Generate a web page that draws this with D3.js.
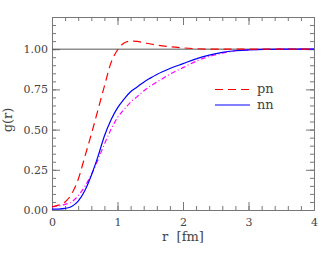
<!DOCTYPE html>
<html>
<head>
<meta charset="utf-8">
<script src="https://cdn.jsdelivr.net/npm/d3@7"></script>
<style>
  body { margin: 0; background: #fff; }
  svg text { font-family: "DejaVu Serif", serif; fill: #444; }
</style>
</head>
<body>
<div id="vis"></div>
<script>
const WIDTH = 330;
const HEIGHT = 254;

// values
const rPn = [0, 0.1, 0.2, 0.3, 0.4, 0.5, 0.6, 0.7, 0.8, 0.9, 1.0, 1.1, 1.2, 1.3, 1.4, 1.6, 1.8, 2.0, 2.2, 2.5, 3.0, 4.0];
const gPn = [0.02, 0.03, 0.05, 0.10, 0.19, 0.33, 0.47, 0.62, 0.77, 0.915, 0.995, 1.038, 1.05, 1.048, 1.04, 1.025, 1.015, 1.008, 1.003, 1.0, 1.0, 1.0];

const rNn = [0, 0.1, 0.2, 0.3, 0.4, 0.5, 0.6, 0.7, 0.8, 0.9, 1.0, 1.1, 1.2, 1.3, 1.4, 1.5, 1.6, 1.8, 2.0, 2.2, 2.4, 2.6, 2.8, 3.0, 3.3, 3.6, 4.0];
const gNn = [0.005, 0.006, 0.01, 0.022, 0.055, 0.12, 0.215, 0.33, 0.46, 0.56, 0.635, 0.69, 0.735, 0.765, 0.795, 0.82, 0.843, 0.88, 0.91, 0.94, 0.963, 0.98, 0.99, 0.996, 0.999, 1.0, 1.0];

const rThird = [0, 0.1, 0.2, 0.3, 0.4, 0.5, 0.6, 0.7, 0.8, 0.9, 1.0, 1.1, 1.2, 1.3, 1.4, 1.5, 1.6, 1.8, 2.0, 2.2, 2.4, 2.6, 2.8, 3.0, 3.3, 3.6, 4.0];
const gThird = [0.02, 0.025, 0.035, 0.05, 0.09, 0.145, 0.22, 0.31, 0.41, 0.5, 0.575, 0.625, 0.67, 0.705, 0.74, 0.77, 0.795, 0.845, 0.885, 0.925, 0.955, 0.975, 0.99, 0.996, 0.999, 1.0, 1.0];

const xMajor = [0, 1, 2, 3, 4];
const yMajor = [0, 0.25, 0.5, 0.75, 1.0];
const legendNames = ["pn", "nn"];

const margin = { left: 52, right: 16, top: 17, bottom: 44 };
const innerW = WIDTH - margin.left - margin.right;
const innerH = HEIGHT - margin.top - margin.bottom;

const x = d3.scaleLinear().domain([0, 4]).range([0, innerW]);
const y = d3.scaleLinear().domain([0, 1.2]).range([innerH, 0]);

const svg = d3.select('#vis').append('svg')
  .attr('width', WIDTH)
  .attr('height', HEIGHT);

const g = svg.append('g')
  .attr('transform', `translate(${margin.left},${margin.top})`);

// minor ticks
const xMinor = d3.range(0, 4.001, 0.2).map(v => +v.toFixed(2));
const yMinor = d3.range(0, 1.2001, 0.05).map(v => +v.toFixed(2));

function styleAxis(sel) {
  sel.selectAll('path').attr('stroke', '#777');
  sel.selectAll('line').attr('stroke', '#777');
  sel.selectAll('text').style('font-size', '11px').attr('fill', '#444');
}

// bottom
g.append('g').attr('transform', `translate(0,${innerH})`)
  .call(d3.axisBottom(x).tickValues(xMinor).tickSizeInner(-4).tickSizeOuter(0).tickFormat(''))
  .call(styleAxis);
g.append('g').attr('transform', `translate(0,${innerH})`)
  .call(d3.axisBottom(x).tickValues(xMajor).tickSizeInner(-8).tickSizeOuter(0).tickPadding(8).tickFormat(d3.format('d')))
  .call(styleAxis);
// top
g.append('g')
  .call(d3.axisTop(x).tickValues(xMinor).tickSizeInner(-4).tickSizeOuter(0).tickFormat(''))
  .call(styleAxis);
g.append('g')
  .call(d3.axisTop(x).tickValues(xMajor).tickSizeInner(-8).tickSizeOuter(0).tickFormat(''))
  .call(styleAxis);
// left
g.append('g')
  .call(d3.axisLeft(y).tickValues(yMinor).tickSizeInner(-4).tickSizeOuter(0).tickFormat(''))
  .call(styleAxis);
g.append('g')
  .call(d3.axisLeft(y).tickValues(yMajor).tickSizeInner(-8).tickSizeOuter(0).tickPadding(4).tickFormat(d3.format('.2f')))
  .call(styleAxis);
// right
g.append('g').attr('transform', `translate(${innerW},0)`)
  .call(d3.axisRight(y).tickValues(yMinor).tickSizeInner(-4).tickSizeOuter(0).tickFormat(''))
  .call(styleAxis);
g.append('g').attr('transform', `translate(${innerW},0)`)
  .call(d3.axisRight(y).tickValues(yMajor).tickSizeInner(-8).tickSizeOuter(0).tickFormat(''))
  .call(styleAxis);

// reference line at g = 1
g.append('line')
  .attr('x1', x(0)).attr('x2', x(4))
  .attr('y1', y(1)).attr('y2', y(1))
  .attr('stroke', '#555')
  .attr('stroke-width', 1);

const line = d3.line()
  .x(d => x(d[0]))
  .y(d => y(d[1]))
  .curve(d3.curveMonotoneX);

const PN_COLOR = '#ff0000', NN_COLOR = '#0000ff', THIRD_COLOR = '#ff00ff';

const series = [
  { r: rThird, v: gThird, color: THIRD_COLOR, dash: '5,2.5,1,2.5' },
  { r: rNn, v: gNn, color: NN_COLOR, dash: null },
  { r: rPn, v: gPn, color: PN_COLOR, dash: '8,5' }
];

series.forEach(s => {
  g.append('path')
    .datum(d3.zip(s.r, s.v))
    .attr('fill', 'none')
    .attr('stroke', s.color)
    .attr('stroke-width', 1.2)
    .attr('stroke-dasharray', s.dash)
    .attr('d', line);
});

// legend
const legend = svg.append('g');
const legendColors = [PN_COLOR, NN_COLOR];
const legendDash = ['8,5', null];
legendNames.forEach((name, i) => {
  const ly = 89.5 + i * 15.5;
  legend.append('line')
    .attr('x1', 215).attr('x2', 250)
    .attr('y1', ly).attr('y2', ly)
    .style('stroke', legendColors[i])
    .style('stroke-width', 1.2)
    .style('stroke-dasharray', legendDash[i]);
  legend.append('text')
    .attr('x', 257)
    .attr('y', ly + 3.5)
    .style('font-size', '13px')
    .text(name);
});

// axis titles
svg.append('text')
  .attr('x', margin.left + x(2))
  .attr('y', 241)
  .attr('text-anchor', 'middle')
  .style('font-size', '13px')
  .attr('xml:space', 'preserve')
  .text('r  [fm]');

svg.append('text')
  .attr('transform', 'translate(12,120) rotate(-90)')
  .attr('text-anchor', 'middle')
  .style('font-size', '13px')
  .text('g(r)');
</script>
</body>
</html>
